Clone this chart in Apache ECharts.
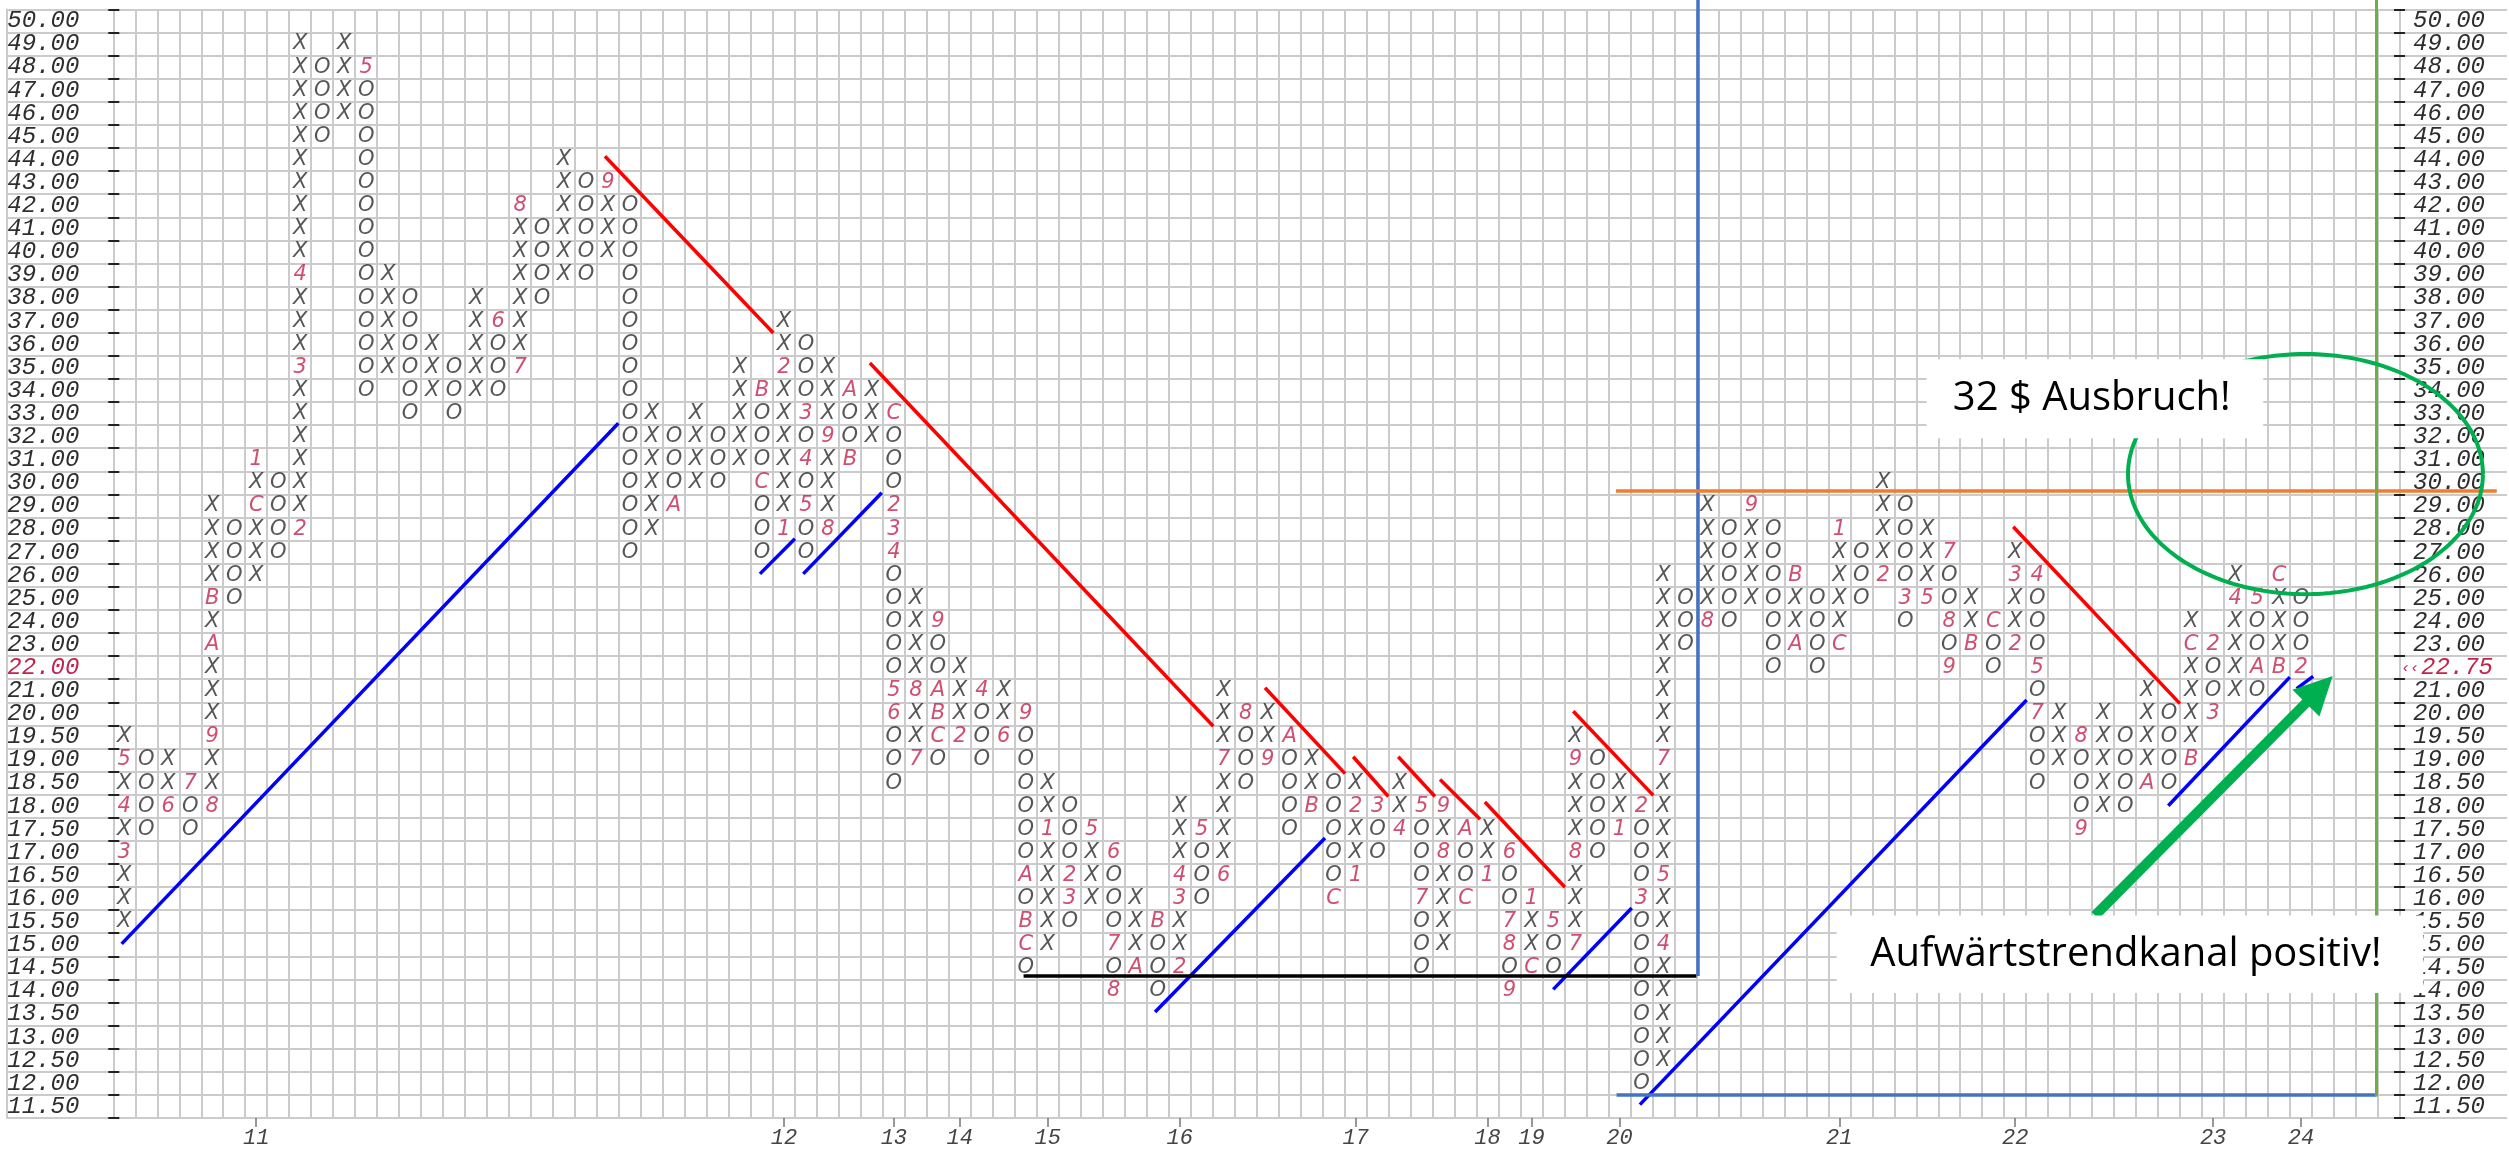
<!DOCTYPE html>
<html><head><meta charset="utf-8">
<script src="https://cdn.jsdelivr.net/npm/echarts@6/dist/echarts.min.js"></script>
<style>html,body{margin:0;padding:0;background:#fff;}#c{width:2509px;height:1153px;}</style>
</head><body><div id="c"></div>
<script>
// ---- box scale (bottom to top) ----
const boxLabels = ['11.50','12.00','12.50','13.00','13.50','14.00','14.50','15.00','15.50','16.00','16.50','17.00','17.50','18.00','18.50','19.00','19.50','20.00','21.00','22.00','23.00','24.00','25.00','26.00','27.00','28.00','29.00','30.00','31.00','32.00','33.00','34.00','35.00','36.00','37.00','38.00','39.00','40.00','41.00','42.00','43.00','44.00','45.00','46.00','47.00','48.00','49.00','50.00'];
const highlightBox = '22.00';
const lastPrice = '22.75';
const totalCols = 104;

// ---- P&F columns ----
const colType = 'XOXOXOXOXOXOXOXOXOXOXOXOXOXOXOXOXOXOXOXOXOXOXOXOXOXOXOXOXOXOXOXOXOXOXOXOXOXOXOXOXOXOXOXOXOXOXOXOXOXO'.split('');
const colLow = ['15.50','17.50','18.00','17.50','18.00','25.00','26.00','27.00','28.00','45.00',
 '46.00','34.00','35.00','33.00','34.00','33.00','34.00','34.00','35.00','38.00',
 '39.00','39.00','40.00','27.00','28.00','29.00','30.00','30.00','31.00','27.00',
 '28.00','27.00','28.00','31.00','32.00','18.50','19.00','19.00','19.50','19.00',
 '19.50','14.50','15.00','15.50','16.00','14.00','14.50','14.00','14.50','16.00',
 '16.50','18.50','19.00','17.50','18.00','16.00','16.50','17.00','17.50','14.50',
 '15.00','16.00','16.50','14.00','14.50','14.50','15.00','17.00','17.50','12.00',
 '12.50','23.00','24.00','24.00','25.00','22.00','23.00','22.00','23.00','25.00',
 '26.00','24.00','25.00','22.00','23.00','22.00','23.00','18.50','19.00','17.50',
 '18.00','18.00','18.50','18.50','19.00','20.00','21.00','21.00','22.00','22.00'];
const colHigh = ['19.50','19.00','19.00','18.50','29.00','28.00','31.00','30.00','49.00','48.00',
 '49.00','48.00','39.00','38.00','36.00','35.00','38.00','37.00','42.00','41.00',
 '44.00','43.00','43.00','42.00','33.00','32.00','33.00','32.00','35.00','34.00',
 '37.00','36.00','35.00','34.00','34.00','33.00','25.00','24.00','22.00','21.00',
 '21.00','20.00','18.50','18.00','17.50','17.00','16.00','15.50','18.00','17.50',
 '21.00','20.00','20.00','19.50','19.00','18.50','18.50','18.00','18.50','18.00',
 '18.00','17.50','17.50','17.00','16.00','15.50','19.50','19.00','18.50','18.00',
 '26.00','25.00','29.00','28.00','29.00','28.00','26.00','25.00','28.00','27.00',
 '30.00','29.00','28.00','27.00','25.00','24.00','27.00','26.00','20.00','19.50',
 '20.00','19.50','21.00','20.00','24.00','23.00','26.00','25.00','26.00','25.00'];

// ---- month markers ----
const monthCol = [0,0,0,2,3,4,4,4,4,6,6,8,8,8,11,17,18,18,22,25,29,29,30,30,31,31,31,32,32,33,33,
 35,35,35,35,35,35,36,36,37,37,37,37,38,39,40,41,41,41,41,42,43,43,44,45,45,45,46,47,48,48,48,49,50,50,
 51,52,53,54,55,56,56,57,58,59,59,60,60,61,61,62,63,63,63,63,64,64,65,66,66,66,68,69,69,70,70,70,
 72,74,76,76,78,78,80,81,82,83,83,83,84,85,86,86,87,87,87,89,89,92,94,94,95,95,96,97,97,98,98,99];
const monthBox = ['17.00','18.00','19.00','18.00','18.50','18.00','19.50','23.00','25.00','29.00','31.00','28.00','35.00','39.00','48.00','37.00','35.00','42.00','43.00','29.00','34.00','30.00','28.00','35.00','33.00','31.00','29.00','28.00','32.00','34.00','31.00',
 '33.00','29.00','28.00','27.00','21.00','20.00','19.00','21.00','24.00','21.00','20.00','19.50','19.50','21.00','19.50','20.00','16.50','15.50','15.00','17.50','16.50','16.00','17.50','17.00','15.00','14.00','14.50','15.50','14.50','16.00','16.50','17.50','16.50','19.00',
 '20.00','19.00','19.50','18.00','16.00','16.50','18.00','18.00','17.50','18.00','16.00','17.00','18.00','17.50','16.00','16.50','17.00','15.50','15.00','14.00','14.50','16.00','15.50','15.00','17.00','19.00','17.50','18.00','16.00','15.00','16.50','19.00',
 '24.00','29.00','23.00','26.00','23.00','28.00','26.00','25.00','25.00','27.00','24.00','22.00','23.00','24.00','23.00','26.00','26.00','22.00','20.00','19.50','17.50','18.50','19.00','23.00','23.00','20.00','25.00','25.00','22.00','22.00','26.00','22.00'];
const monthText = ['3','4','5','6','7','8','9','A','B','C','1','2','3','4','5','6','7','8','9','A','B','C','1','2','3','4','5','8','9','A','B',
 'C','2','3','4','5','6','7','8','9','A','B','C','2','4','6','9','A','B','C','1','2','3','5','6','7','8','A','B','2','3','4','5','6','7',
 '8','9','A','B','C','1','2','3','4','5','7','8','9','A','C','1','6','7','8','9','C','1','5','7','8','9','1','2','3','4','5','7',
 '8','9','A','B','C','1','2','3','5','7','8','9','B','C','2','3','4','5','7','8','9','A','B','C','2','3','4','5','A','B','C','2'];

// ---- year markers on the time axis ----
const yearCol = [6,30,35,38,42,48,56,62,64,68,78,86,95,99];
const yearText = ['11','12','13','14','15','16','17','18','19','20','21','22','23','24'];

// ---- drawn lines, in grid units [column, box-row from bottom] ----
const blueLines = [[0.38,7.54,22.97,30.08],[29.41,23.56,31.0,25.08],[31.38,23.56,34.95,27.07],[47.38,4.59,55.11,12.12],
 [65.49,5.57,69.06,9.09],[69.43,0.58,87.02,18.10],[93.46,13.52,98.99,19.09],[99.30,18.59,100.05,19.12]];
const redLines = [[22.36,41.64,30.02,33.99],[34.41,32.69,50.03,16.96],[52.38,18.63,56.02,14.91],[56.39,15.64,57.99,13.92],
 [58.44,15.64,60.11,13.92],[60.34,14.66,62.16,12.94],[62.38,13.68,66.02,9.99],[66.40,17.61,70.04,13.97],[86.41,25.60,93.99,17.94]];
const supportLine = [41.4,6.15,72.0,6.15];
const steelLines = [[72.07,6.15,72.07,48.5],[68.37,0.99,102.94,0.99]];
const greenVLine = [102.94,0.94,102.94,48.5];
const orangeLine = [68.34,27.15,108.4,27.15];
const arrowLine = [90.13,8.77,100.33,18.55];
const ellipseSpec = {cx:99.70, cy:27.88, rx:8.07, ry:5.20};
const noteTexts = ['32 $ Ausbruch!','Aufwärtstrendkanal positiv!'];
const noteBoxes = [[82.47,32.85,97.78,29.43],[78.38,8.77,105.06,5.41]];
const noteCenters = [[89.98,31.14],[91.53,7.09]];

// ---- build marks ----
const monthMap = {};
monthCol.forEach((c,i)=>{ monthMap[c+'|'+monthBox[i]] = monthText[i]; });
const glyphs = [], months = [];
colType.forEach((t,c)=>{
  const lo = boxLabels.indexOf(colLow[c]), hi = boxLabels.indexOf(colHigh[c]);
  for (let b=lo;b<=hi;b++){
    const m = monthMap[c+'|'+boxLabels[b]];
    if (m) months.push([c+0.5,b+0.5,m]); else glyphs.push([c+0.5,b+0.5,t]);
  }
});
const yearCats = [];
for (let i=0;i<totalCols;i++){ const k=yearCol.indexOf(i); yearCats.push(k>=0?yearText[k]:''); }

const gridColor = '#cbcbcb';
const red = '#c3234d';
const labelGrey = '#2e2e2e';
const axisFont = {fontSize:24, fontStyle:'italic', fontFamily:'Liberation Mono'};
const toLines = (arr, color, width) => arr.map(l=>({coords:[[l[0],l[1]],[l[2],l[3]]], lineStyle:{color, width, opacity:1}}));
const glyphLabel = (color) => ({show:true, position:'inside', formatter:p=>p.value[2], fontSize:21, fontStyle:'italic', fontFamily:'DejaVu Sans', color});

const option = {
  animation:false, backgroundColor:'#fff',
  grid:[
    {left:113.3, right:109, top:9.4, bottom:35, outerBoundsMode:'none'},
    {left:7, right:2, top:9.4, bottom:35, outerBoundsMode:'none'}
  ],
  xAxis:[
    {gridIndex:0,type:'value',min:0,max:totalCols,interval:1,axisLine:{show:false},axisTick:{show:false},axisLabel:{show:false},splitLine:{show:true,lineStyle:{color:gridColor,width:2}}},
    {gridIndex:0,type:'category',data:yearCats,position:'bottom',boundaryGap:true,axisLine:{show:false},
     axisTick:{show:true,alignWithLabel:true,interval:(i,v)=>v!=='',length:9,lineStyle:{color:'#777',width:1.5}},
     axisLabel:Object.assign({interval:(i,v)=>v!=='',margin:9,color:'#444'},axisFont,{fontSize:22}),splitLine:{show:false}},
    {gridIndex:1,type:'value',min:0,max:1,show:false}
  ],
  yAxis:[
    {gridIndex:0,type:'value',min:0,max:48,interval:1,axisLine:{show:false},axisTick:{show:false},axisLabel:{show:false},splitLine:{show:true,lineStyle:{color:gridColor,width:2}}},
    {gridIndex:0,type:'category',data:boxLabels,position:'left',boundaryGap:true,axisLine:{show:false},
     axisTick:{show:true,interval:0,length:5,lineStyle:{color:'#222',width:2}},
     axisLabel:Object.assign({interval:0,margin:34,align:'right',color:(v)=>v===highlightBox?red:labelGrey},axisFont),splitLine:{show:false}},
    {gridIndex:0,type:'category',data:boxLabels,position:'right',boundaryGap:true,axisLine:{show:false},
     axisTick:{show:true,interval:0,length:5,lineStyle:{color:'#222',width:2}},
     axisLabel:Object.assign({interval:0,margin:13,align:'left',color:labelGrey,
       formatter:(v)=>v===highlightBox?'{a|\u2039\u2039}{b|'+lastPrice+'}':v,
       rich:{a:{fontSize:15,fontStyle:'italic',fontFamily:'Liberation Mono',color:red,padding:[0,2,0,-12]},
             b:{fontSize:24,fontStyle:'italic',fontFamily:'Liberation Mono',color:red}}},axisFont),splitLine:{show:false}},
    {gridIndex:1,type:'value',min:0,max:48,interval:1,axisLine:{show:true,lineStyle:{color:gridColor,width:2}},axisTick:{show:false},axisLabel:{show:false},splitLine:{show:true,lineStyle:{color:gridColor,width:2}}},
    {gridIndex:0,type:'category',data:boxLabels,position:'left',boundaryGap:true,axisLine:{show:false},axisTick:{show:true,inside:true,interval:0,length:6,lineStyle:{color:'#222',width:2}},axisLabel:{show:false},splitLine:{show:false}},
    {gridIndex:0,type:'category',data:boxLabels,position:'right',boundaryGap:true,axisLine:{show:false},axisTick:{show:true,inside:true,interval:0,length:6,lineStyle:{color:'#222',width:2}},axisLabel:{show:false},splitLine:{show:false}}
  ],
  series:[
    {type:'scatter',xAxisIndex:2,yAxisIndex:3,data:[]},
    {type:'scatter',name:'boxes',xAxisIndex:0,yAxisIndex:0,data:glyphs,symbol:'rect',symbolSize:1,itemStyle:{color:'rgba(0,0,0,0)'},label:glyphLabel('#2c2c2c'),z:3},
    {type:'scatter',name:'months',xAxisIndex:0,yAxisIndex:0,data:months,symbol:'rect',symbolSize:1,itemStyle:{color:'rgba(0,0,0,0)'},label:glyphLabel(red),z:3},
    {type:'lines',coordinateSystem:'cartesian2d',xAxisIndex:0,yAxisIndex:0,clip:false,z:4,symbol:'none',
     data:[].concat(toLines(blueLines,'#0000ff',3.5),toLines(redLines,'#ff0000',3.5),toLines([supportLine],'#000000',3.5),
       toLines(steelLines,'#4472c4',3.5),toLines([orangeLine],'#ed7d31',3.5))},
    {type:'lines',coordinateSystem:'cartesian2d',xAxisIndex:0,yAxisIndex:0,clip:false,z:8,symbol:'none',
     data:toLines([greenVLine],'#70ad47',3)},
    {type:'lines',coordinateSystem:'cartesian2d',xAxisIndex:0,yAxisIndex:0,clip:false,z:9,symbol:['none','triangle'],symbolSize:38,
     data:toLines([arrowLine],'#00b050',10)}
  ]
};
const chart = echarts.init(document.getElementById('c'), null, {width:2509, height:1153});
chart.setOption(option);

const toPx = p => chart.convertToPixel({xAxisIndex:0, yAxisIndex:0}, p);
const pts = [];
for (let k=0;k<=180;k++){ const a=k/180*2*Math.PI; pts.push(toPx([ellipseSpec.cx+ellipseSpec.rx*Math.cos(a), ellipseSpec.cy+ellipseSpec.ry*Math.sin(a)])); }
const graphics = [{type:'polyline', z:50, shape:{points:pts}, style:{stroke:'#00b050', lineWidth:4, fill:null}}];
noteBoxes.forEach((b,i)=>{
  const p1 = toPx([b[0],b[1]]), p2 = toPx([b[2],b[3]]);
  graphics.push({type:'rect', z:60, shape:{x:p1[0], y:p1[1], width:p2[0]-p1[0], height:p2[1]-p1[1]}, style:{fill:'#ffffff'}});
  const c = toPx(noteCenters[i]);
  graphics.push({type:'text', z:61, style:{text:noteTexts[i], x:c[0], y:c[1], fill:'#000', fontSize:40, fontFamily:'Open Sans', align:'center', verticalAlign:'middle'}});
});
chart.setOption({graphic:graphics});
</script></body></html>
